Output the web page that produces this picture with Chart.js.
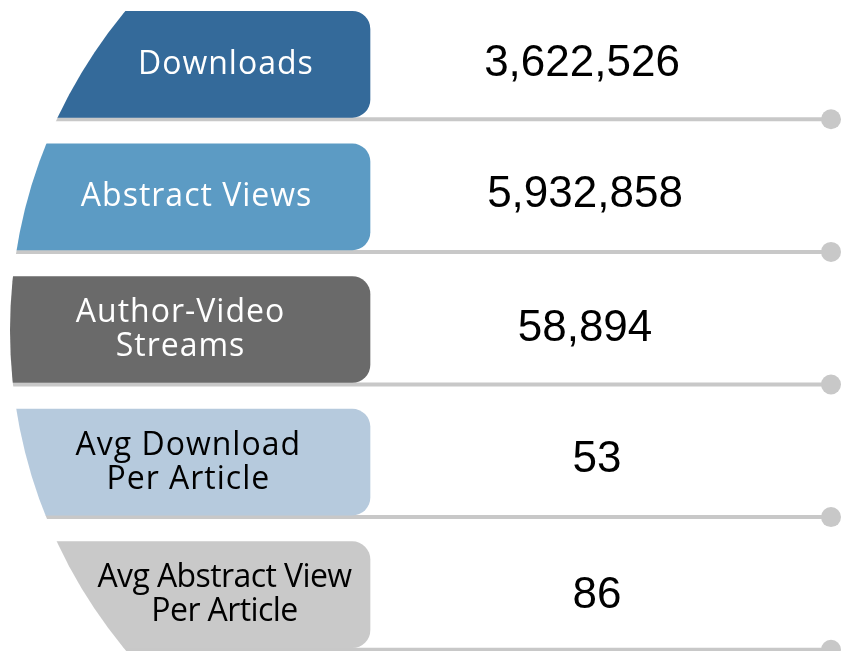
<!DOCTYPE html>
<html>
<head>
<meta charset="utf-8">
<script src="https://cdn.jsdelivr.net/npm/chart.js@4.4.1/dist/chart.umd.min.js"></script>
<style>
  html, body { margin: 0; padding: 0; background: #ffffff; overflow: hidden; }
  #frame { position: relative; width: 841px; height: 651px; overflow: hidden; }
  #box { position: absolute; left: 0; top: -2px; width: 841px; height: 663px; }
</style>
</head>
<body>
<div id="frame"><div id="box"><canvas id="c"></canvas></div></div>
<script>
// ---- data ----
const categories = ['Downloads', 'Abstract Views', 'Author-Video Streams', 'Avg Download Per Article', 'Avg Abstract View Per Article'];
const labelLines = [['Downloads'], ['Abstract Views'], ['Author-Video', 'Streams'], ['Avg Download', 'Per Article'], ['Avg Abstract View', 'Per Article']];
const values = [3622526, 5932858, 58894, 53, 86];

// ---- style ----
const tabColors = ['#346A9A', '#5C9BC4', '#6A6A6A', '#B6CADD', '#C9C9C9'];
const textColors = ['#FFFFFF', '#FFFFFF', '#FFFFFF', '#000000', '#000000'];
const labelDx = [-3, -3, -10, -11, -3];
const labelSpacing = [1, 1, 1, 1, -0.6];
const valueDx = [-3, 0, 0, 12, 12];
const valueDy = [-4, -6, -4, -6, -2];
const LINE_COLOR = '#C8C8C8';
const X_MAX = 841, TAB_END = 370, LINE_END = 831, ARC_CX = 510, ARC_LEFT = 10;
const DOT_R = 10, LINE_W = 4, LINE_GAP = 2, VALUE_CX = 585;
const LABEL_FONT = '"Open Sans", sans-serif', LABEL_SIZE = 32, LABEL_LH = 34;
const VALUE_FONT = '"Liberation Sans", Arial, sans-serif', VALUE_SIZE = 44;

function arcGeom(chart) {
  const xs = chart.scales.x, ys = chart.scales.y;
  const cx = xs.getPixelForValue(ARC_CX);
  const r = cx - xs.getPixelForValue(ARC_LEFT);
  const cy = ys.getPixelForValue(2) + 1;
  return { cx, cy, r };
}
function arcClip(chart) {
  const g = arcGeom(chart), ctx = chart.ctx;
  ctx.beginPath();
  ctx.arc(g.cx, g.cy, g.r, 0, Math.PI * 2);
  ctx.clip();
}

const tabsPlugin = {
  id: 'tabs',
  beforeDatasetsDraw(chart) {
    const ctx = chart.ctx, xs = chart.scales.x;
    const meta = chart.getDatasetMeta(0);
    ctx.save();
    arcClip(chart);
    meta.data.forEach((bar) => {
      const y = bar.y + bar.height / 2 + LINE_GAP;
      ctx.strokeStyle = LINE_COLOR;
      ctx.lineWidth = LINE_W;
      ctx.beginPath();
      ctx.moveTo(xs.getPixelForValue(0), y);
      ctx.lineTo(xs.getPixelForValue(LINE_END), y);
      ctx.stroke();
      ctx.fillStyle = LINE_COLOR;
      ctx.beginPath();
      ctx.arc(xs.getPixelForValue(LINE_END), y, DOT_R, 0, Math.PI * 2);
      ctx.fill();
    });
    ctx.restore();
  },
  beforeDatasetDraw(chart, args) {
    if (args.index === 0) { chart.ctx.save(); arcClip(chart); }
  },
  afterDatasetDraw(chart, args) {
    if (args.index === 0) chart.ctx.restore();
  },
  afterDatasetsDraw(chart) {
    const ctx = chart.ctx, xs = chart.scales.x;
    const meta = chart.getDatasetMeta(0);
    const g = arcGeom(chart);
    ctx.save();
    meta.data.forEach((bar, i) => {
      const dy = bar.y - g.cy;
      const left = g.cx - Math.sqrt(g.r * g.r - dy * dy);
      const mid = (left + bar.x) / 2 + labelDx[i];
      const lines = labelLines[i];
      ctx.font = LABEL_SIZE + 'px ' + LABEL_FONT;
      ctx.letterSpacing = labelSpacing[i] + 'px';
      ctx.fillStyle = textColors[i];
      ctx.textAlign = 'center';
      ctx.textBaseline = 'alphabetic';
      const capH = LABEL_SIZE * 0.714;
      const centerY = bar.y - 2;
      let base = centerY + capH / 2 - (lines.length - 1) * LABEL_LH / 2;
      lines.forEach((t) => { ctx.fillText(t, mid + labelSpacing[i] / 2, base); base += LABEL_LH; });

      ctx.letterSpacing = '0px';
      ctx.font = VALUE_SIZE + 'px ' + VALUE_FONT;
      ctx.fillStyle = '#000000';
      const vh = VALUE_SIZE * 0.716;
      ctx.fillText(values[i].toLocaleString('en-US'), xs.getPixelForValue(VALUE_CX) + valueDx[i], bar.y + valueDy[i] + vh / 2);
    });
    ctx.restore();
  }
};

new Chart(document.getElementById('c'), {
  type: 'bar',
  data: {
    labels: categories,
    datasets: [{
      label: 'Metrics',
      data: categories.map(() => [0, TAB_END]),
      backgroundColor: tabColors,
      borderWidth: 0,
      borderSkipped: false,
      borderRadius: { topLeft: 0, bottomLeft: 0, topRight: 18, bottomRight: 18 },
      barThickness: 106
    }]
  },
  options: {
    indexAxis: 'y',
    responsive: true,
    maintainAspectRatio: false,
    animation: false,
    layout: { padding: 0 },
    plugins: { legend: { display: false }, tooltip: { enabled: false }, title: { display: false } },
    scales: {
      x: { type: 'linear', min: 0, max: X_MAX, display: false, grid: { display: false } },
      y: { type: 'category', display: false, offset: true, grid: { display: false } }
    }
  },
  plugins: [tabsPlugin]
});
</script>
</body>
</html>
